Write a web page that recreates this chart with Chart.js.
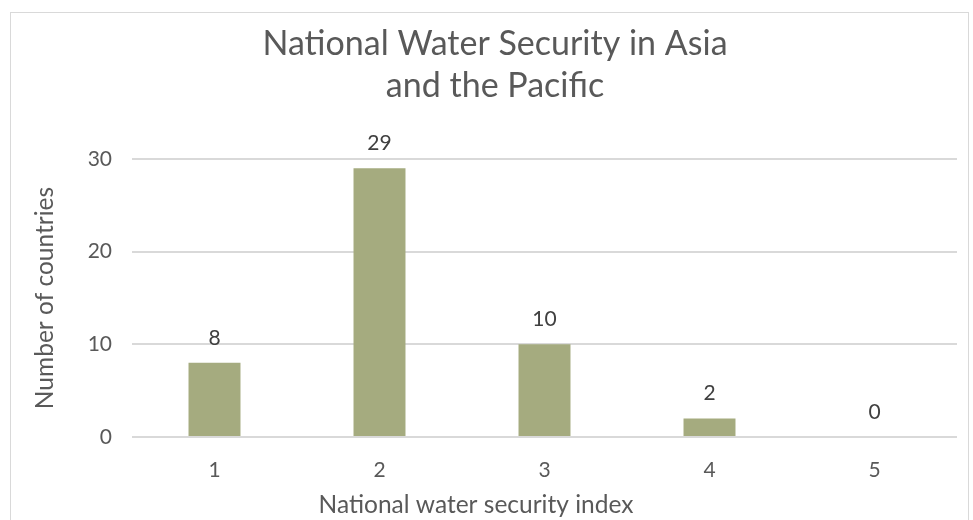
<!DOCTYPE html>
<html>
<head>
<meta charset="utf-8">
<script src="https://cdn.jsdelivr.net/npm/chart.js@4/dist/chart.umd.min.js"></script>
<style>
    html, body { margin: 0; padding: 0; background: #fff; overflow: hidden; }
    #wrap { position: relative; width: 973px; height: 520px; }
    #frame { position: absolute; left: 10px; top: 12px; width: 957px; height: 520px; border: 1px solid #d9d9d9; pointer-events: none; }
</style>
</head>
<body>
<div id="wrap">
    <canvas id="waterChart" width="973" height="520"></canvas>
    <div id="frame"></div>
</div>
<script>
const categories = ['1', '2', '3', '4', '5'];
const countries = [8, 29, 10, 2, 0];
const yTicks = [0, 10, 20, 30];
const xTitle = 'National water security index';

const fontFamily = 'Lato, "Open Sans", sans-serif';

// value labels above each bar + x axis title (centred on the whole chart, not the plot)
const extraText = {
    id: 'extraText',
    afterDatasetsDraw(chart) {
        const ctx = chart.ctx;
        const meta = chart.getDatasetMeta(0);
        ctx.save();
        ctx.font = '21px ' + fontFamily;
        ctx.fillStyle = '#404040';
        ctx.textAlign = 'center';
        ctx.textBaseline = 'middle';
        meta.data.forEach(function(bar, i) {
            ctx.fillText(String(countries[i]), bar.x, bar.y - 25);
        });
        ctx.font = '24.5px ' + fontFamily;
        ctx.fillStyle = '#595959';
        ctx.fillText(xTitle, 476, 505);
        ctx.restore();
    }
};

let ctx = document.getElementById('waterChart');
let waterChart = new Chart(ctx, {
    type: 'bar',
    data: {
        labels: categories,
        datasets: [{
            label: 'Number of countries',
            data: countries,
            backgroundColor: '#a5ab7f',
            borderWidth: 0,
            barPercentage: 0.315,
            categoryPercentage: 1
        }]
    },
    options: {
        responsive: false,
        animation: false,
        layout: { padding: { top: 0, right: 16, left: 33, bottom: 0 } },
        plugins: {
            legend: { display: false },
            tooltip: { enabled: false },
            title: {
                display: true,
                text: ['National Water Security in Asia', 'and the Pacific'],
                color: '#595959',
                font: { family: fontFamily, size: 34, weight: 'normal', lineHeight: 1.235 },
                padding: { top: 23, bottom: 52 }
            }
        },
        scales: {
            x: {
                grid: { display: false, drawTicks: false },
                border: { display: false },
                ticks: { color: '#595959', font: { family: fontFamily, size: 21 }, padding: 21 },
                afterFit(scale) { scale.height = 83; }
            },
            y: {
                min: 0,
                max: 30,
                afterBuildTicks(scale) { scale.ticks = yTicks.map(v => ({ value: v })); },
                grid: { color: '#d9d9d9', lineWidth: 2, drawTicks: false },
                border: { display: false },
                ticks: { color: '#595959', font: { family: fontFamily, size: 21 }, padding: 20 },
                title: {
                    display: true,
                    text: 'Number of countries',
                    color: '#595959',
                    font: { family: fontFamily, size: 24.5, lineHeight: 1 },
                    padding: { top: 0, bottom: 0 }
                },
                afterFit(scale) { scale.width = 99; }
            }
        }
    },
    plugins: [extraText]
});
</script>
</body>
</html>
